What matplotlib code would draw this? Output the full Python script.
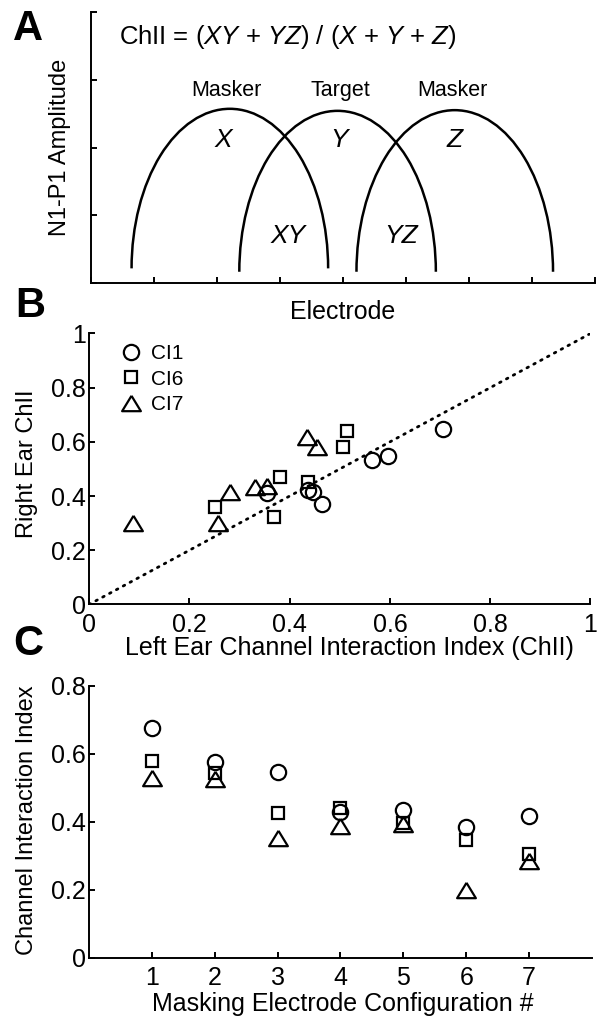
import matplotlib
matplotlib.use("Agg")
import matplotlib.pyplot as plt
from matplotlib.patches import Arc

plt.rcParams['font.family'] = ['Liberation Sans', 'DejaVu Sans']
plt.rcParams['mathtext.fontset'] = 'custom'
plt.rcParams['mathtext.rm'] = 'Liberation Sans'
plt.rcParams['mathtext.it'] = 'Liberation Sans:italic'

# panel A: schematic recruitment curves (masker X, target Y, masker Z)
arch_centers = [2.21, 3.92, 5.78]
arch_half_widths = [1.56, 1.56, 1.56]
arch_bases = [0.22, 0.17, 0.17]
arch_peaks = [2.57, 2.54, 2.55]

# panel B: left vs right ear ChII per subject
ci1_left = [0.354, 0.436, 0.447, 0.464, 0.564, 0.597, 0.705]
ci1_right = [0.413, 0.422, 0.416, 0.371, 0.533, 0.548, 0.648]
ci6_left = [0.251, 0.369, 0.381, 0.436, 0.506, 0.515]
ci6_right = [0.361, 0.324, 0.472, 0.451, 0.582, 0.641]
ci7_left = [0.088, 0.258, 0.281, 0.331, 0.354, 0.434, 0.454]
ci7_right = [0.300, 0.300, 0.416, 0.435, 0.437, 0.617, 0.582]
b_ticks = [0, 0.2, 0.4, 0.6, 0.8, 1]
b_ticklabels = ['0', '0.2', '0.4', '0.6', '0.8', '1']

# panel C: ChII per masking configuration
configs = [1, 2, 3, 4, 5, 6, 7]
ci1_chii = [0.677, 0.575, 0.547, 0.430, 0.434, 0.385, 0.417]
ci6_chii = [0.578, 0.542, 0.425, 0.440, 0.395, 0.346, 0.305]
ci7_chii = [0.528, 0.525, 0.351, 0.387, 0.393, 0.199, 0.285]
c_yticks = [0, 0.2, 0.4, 0.6, 0.8]
c_yticklabels = ['0', '0.2', '0.4', '0.6', '0.8']

subjects = ['CI1', 'CI6', 'CI7']

LW = 1.4
MEW = 1.6
FS = 18      # tick labels and x labels
FS_Y = 17    # y labels
tri = [(0, 0.82), (-1, -0.82), (1, -0.82), (0, 0.82)]
mk = {'CI1': dict(marker='o', ms=11),
      'CI6': dict(marker='s', ms=9),
      'CI7': dict(marker=tri, ms=13.5)}


def style_axes(ax):
    for s in ['top', 'right']:
        ax.spines[s].set_visible(False)
    for s in ['left', 'bottom']:
        ax.spines[s].set_linewidth(LW)
    ax.tick_params(direction='in', length=4, width=LW, labelsize=FS, pad=2)
    ax.tick_params(axis='x', pad=6)


fig = plt.figure(figsize=(5.97, 10.18), dpi=100)

# ---- A ----
axA = fig.add_axes([0.1518, 0.7217, 0.8442, 0.2668])
style_axes(axA)
axA.set_xlim(0, 8)
axA.set_ylim(0, 4)
axA.set_xticks(range(0, 9))
axA.set_yticks(range(0, 5))
axA.set_xticklabels([])
axA.set_yticklabels([])
for c, hw, b, p in zip(arch_centers, arch_half_widths, arch_bases, arch_peaks):
    axA.add_patch(Arc((c, b), 2 * hw, 2 * (p - b), theta1=0, theta2=180,
                      color='black', lw=1.8))
axA.text(0.45, 3.53, r'ChII = ($XY$ + $YZ$) / ($X$ + $Y$ + $Z$)',
         fontsize=18.5, va='baseline', ha='left')
for x, lab in zip([2.16, 3.97, 5.75], ['Masker', 'Target', 'Masker']):
    axA.text(x, 2.76, lab, fontsize=15.5, ha='center', va='baseline')
for x, y, lab in [(2.10, 2.01, 'X'), (3.95, 2.01, 'Y'), (5.78, 2.01, 'Z'),
                  (3.13, 0.59, 'XY'), (4.93, 0.59, 'YZ')]:
    axA.text(x, y, lab, fontsize=19, style='italic', ha='center', va='baseline')
axA.set_xlabel('Electrode', fontsize=FS, va='baseline')
axA.xaxis.set_label_coords(0.5, -0.133)
axA.set_ylabel('N1-P1 Amplitude', fontsize=FS_Y, va='center')
axA.yaxis.set_label_coords(-0.061, 0.5)

# ---- B ----
axB = fig.add_axes([0.1491, 0.4062, 0.8400, 0.2662])
style_axes(axB)
axB.set_xlim(0, 1)
axB.set_ylim(0, 1)
axB.plot([0, 1], [0, 1], color='black', lw=2, linestyle=(0, (0.6, 2.2)),
         dash_capstyle='round', zorder=1)
for name, xs, ys in zip(subjects, [ci1_left, ci6_left, ci7_left],
                        [ci1_right, ci6_right, ci7_right]):
    axB.plot(xs, ys, ls='none', mfc='none', mec='black', mew=MEW,
             label=name, zorder=3, **mk[name])
axB.set_xticks(b_ticks)
axB.set_xticklabels(b_ticklabels)
axB.set_yticks(b_ticks)
axB.set_yticklabels(b_ticklabels)
axB.legend(loc='upper left', bbox_to_anchor=(0.062, 0.96), frameon=False,
           fontsize=15, handlelength=1.0, handletextpad=0.5,
           labelspacing=0.3, borderpad=0, borderaxespad=0)
axB.set_xlabel('Left Ear Channel Interaction Index (ChII)', fontsize=FS,
               va='baseline')
axB.xaxis.set_label_coords(0.52, -0.186)
axB.set_ylabel('Right Ear ChII', fontsize=FS_Y, va='center')
axB.yaxis.set_label_coords(-0.124, 0.52)

# ---- C ----
axC = fig.add_axes([0.1491, 0.0592, 0.8425, 0.2672])
style_axes(axC)
axC.set_xlim(0, 8)
axC.set_ylim(0, 0.8)
for name, ys in zip(subjects, [ci1_chii, ci6_chii, ci7_chii]):
    axC.plot(configs, ys, ls='none', mfc='none', mec='black', mew=MEW,
             zorder=3, **mk[name])
axC.set_xticks(configs)
axC.set_yticks(c_yticks)
axC.set_yticklabels(c_yticklabels)
axC.set_xlabel('Masking Electrode Configuration #', fontsize=FS, va='baseline')
axC.xaxis.set_label_coords(0.505, -0.196)
axC.set_ylabel('Channel Interaction Index', fontsize=FS_Y, va='center')
axC.yaxis.set_label_coords(-0.123, 0.506)

# panel letters
for x, y, letter in [(0.022, 0.9607, 'A'), (0.025, 0.6889, 'B'),
                     (0.0226, 0.3566, 'C')]:
    fig.text(x, y, letter, fontsize=30, fontweight='bold', va='baseline')

fig.savefig('out.png', dpi=100)
